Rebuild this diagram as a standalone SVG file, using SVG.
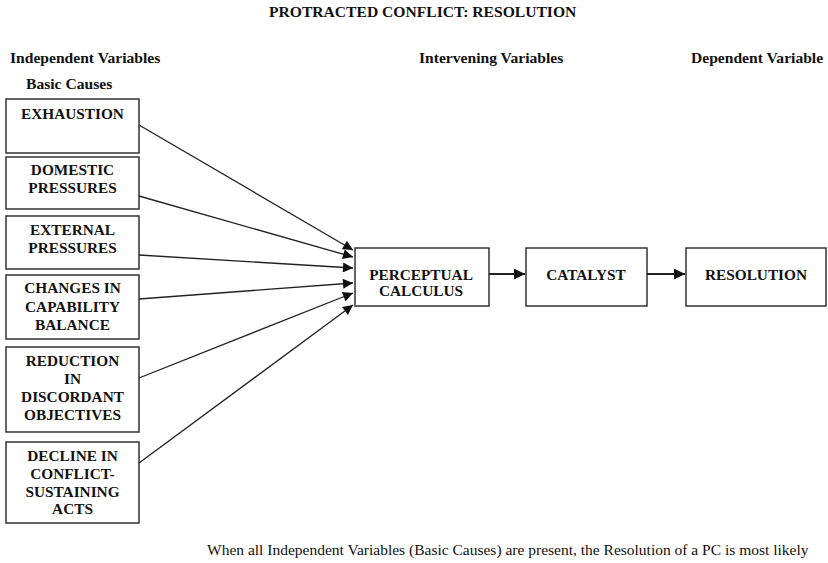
<svg xmlns="http://www.w3.org/2000/svg" width="828" height="563" viewBox="0 0 828 563">
<style>
text{font-family:"Liberation Serif","Times New Roman",serif;fill:#111}
.h{font-size:15.6px;font-weight:bold}
.b{font-size:15.3px;font-weight:bold;text-anchor:middle}
.n{font-size:15.5px}
rect{fill:#fff;stroke:#333;stroke-width:1.5}
.c line{stroke:#222;stroke-width:1.3}
.c .t{stroke-width:2.2}
</style>
<defs>
<marker id="ah" viewBox="0 0 10 10" refX="10" refY="5" markerWidth="11" markerHeight="10" markerUnits="userSpaceOnUse" orient="auto"><path d="M0,0L10,5L0,10z" fill="#111"/></marker>
<marker id="ah2" viewBox="0 0 10 10" refX="10" refY="5" markerWidth="12" markerHeight="11" markerUnits="userSpaceOnUse" orient="auto"><path d="M0,0L10,5L0,10z" fill="#111"/></marker>
</defs>
<text class="h" x="269" y="17">PROTRACTED CONFLICT: RESOLUTION</text>
<text class="h" x="10" y="63">Independent Variables</text>
<text class="h" x="419" y="63">Intervening Variables</text>
<text class="h" x="691" y="63">Dependent Variable</text>
<text class="h" x="26" y="89">Basic Causes</text>
<g id="exhaustion"><rect x="6" y="99" width="133" height="54"/><text class="b" x="72.5" y="119">EXHAUSTION</text></g>
<g id="domestic"><rect x="6" y="157" width="133" height="52"/><text class="b" x="72.5" y="175">DOMESTIC</text><text class="b" x="72.5" y="193">PRESSURES</text></g>
<g id="external"><rect x="6" y="216" width="133" height="53"/><text class="b" x="72.5" y="235">EXTERNAL</text><text class="b" x="72.5" y="253">PRESSURES</text></g>
<g id="changes"><rect x="6" y="275" width="133" height="64"/><text class="b" x="72.5" y="293">CHANGES  IN</text><text class="b" x="72.5" y="312">CAPABILITY</text><text class="b" x="72.5" y="330">BALANCE</text></g>
<g id="reduction"><rect x="6" y="347" width="133" height="85"/><text class="b" x="72.5" y="366">REDUCTION</text><text class="b" x="72.5" y="384">IN</text><text class="b" x="72.5" y="402">DISCORDANT</text><text class="b" x="72.5" y="420">OBJECTIVES</text></g>
<g id="decline"><rect x="6" y="442" width="133" height="81"/><text class="b" x="72.5" y="461">DECLINE IN</text><text class="b" x="72.5" y="479">CONFLICT-</text><text class="b" x="72.5" y="497">SUSTAINING</text><text class="b" x="72.5" y="514">ACTS</text></g>
<g id="perceptual"><rect x="355" y="248" width="134" height="58"/><text class="b" x="421" y="280">PERCEPTUAL</text><text class="b" x="421" y="296">CALCULUS</text></g>
<g id="catalyst"><rect x="526" y="248" width="121" height="58"/><text class="b" x="586" y="280">CATALYST</text></g>
<g id="resolution"><rect x="686" y="248" width="140" height="58"/><text class="b" x="756" y="280">RESOLUTION</text></g>
<g class="c">
<line x1="139" y1="125" x2="353" y2="250" marker-end="url(#ah)"/>
<line x1="139" y1="196" x2="353" y2="257" marker-end="url(#ah)"/>
<line x1="139" y1="255" x2="353" y2="268" marker-end="url(#ah)"/>
<line x1="139" y1="299" x2="353" y2="283" marker-end="url(#ah)"/>
<line x1="139" y1="378" x2="353" y2="293" marker-end="url(#ah)"/>
<line x1="139" y1="463" x2="353" y2="305" marker-end="url(#ah)"/>
<line class="t" x1="489" y1="274" x2="525" y2="274" marker-end="url(#ah2)"/>
<line class="t" x1="647" y1="274" x2="685" y2="274" marker-end="url(#ah2)"/>
</g>
<text class="n" x="207" y="555">When all Independent Variables (Basic Causes) are present, the Resolution of a PC is most likely</text>
</svg>
